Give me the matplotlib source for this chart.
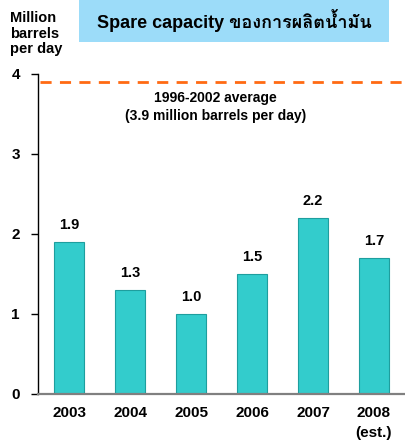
import matplotlib
matplotlib.use("Agg")
import matplotlib.pyplot as plt
from matplotlib.patches import Rectangle

years = ["2003", "2004", "2005", "2006", "2007", "2008\n(est.)"]
spare_capacity = [1.9, 1.3, 1.0, 1.5, 2.2, 1.7]
average_1996_2002 = 3.9
yticks = [0, 1, 2, 3, 4]

title_text = "Spare capacity ของการผลิตน้ำมัน"
ylabel_text = "Million\nbarrels\nper day"
avg_text = "1996-2002 average\n(3.9 million barrels per day)"

FONT = ["Liberation Sans", "Loma", "DejaVu Sans"]
plt.rcParams["font.family"] = FONT
plt.rcParams["font.weight"] = "bold"

fig = plt.figure(figsize=(4.05, 4.47), dpi=100)
ax = fig.add_axes([0.0938, 0.1186, 0.9062, 0.7159])

x = list(range(len(years)))
ax.bar(x, spare_capacity, width=0.5, color="#33CCCC", edgecolor="#1E9E9E",
       linewidth=0.8, zorder=2)

for xi, v in zip(x, spare_capacity):
    ax.annotate(f"{v:.1f}", (xi, v), xytext=(0, 7), textcoords="offset points",
                ha="center", va="bottom", fontsize=10.5, fontweight="bold")

ax.axhline(average_1996_2002, xmin=0.005, xmax=1.0, color="#FF6A13",
           linestyle=(0, (4, 3)), linewidth=2, zorder=3)
ax.text(2.4, 3.59, avg_text, ha="center", va="center", fontsize=10,
        fontweight="bold", linespacing=1.35)

ax.set_xlim(-0.51, 5.51)
ax.set_ylim(0, 4)
ax.set_yticks(yticks)
ax.set_yticklabels([str(t) for t in yticks], fontsize=11, fontweight="bold")
ax.set_xticks(x)
ax.set_xticklabels(years, fontsize=11, fontweight="bold", linespacing=1.5,
                   va="top")
ax.tick_params(axis="x", length=0, pad=9)
ax.tick_params(axis="y", length=5, width=1, color="black", pad=8)
ax.get_yticklines()[0].set_color("#808080")

for side in ("top", "right"):
    ax.spines[side].set_visible(False)
ax.spines["left"].set_color("black")
ax.spines["left"].set_linewidth(1)
ax.spines["bottom"].set_color("#808080")
ax.spines["bottom"].set_linewidth(1.6)
ax.spines["bottom"].set_zorder(4)

# title banner
fig.patches.append(Rectangle((79 / 405, 1 - 42 / 447), 310 / 405, 42 / 447,
                             transform=fig.transFigure, facecolor="#9CDCF9",
                             edgecolor="none", zorder=0))
fig.text(234 / 405, 1 - 21 / 447, title_text, ha="center", va="center",
         fontsize=13, fontweight="bold", family=FONT)

fig.text(10 / 405, 1 - 11 / 447, ylabel_text, ha="left", va="top",
         fontsize=10.5, fontweight="bold", linespacing=1.15)

fig.savefig("out.png")
